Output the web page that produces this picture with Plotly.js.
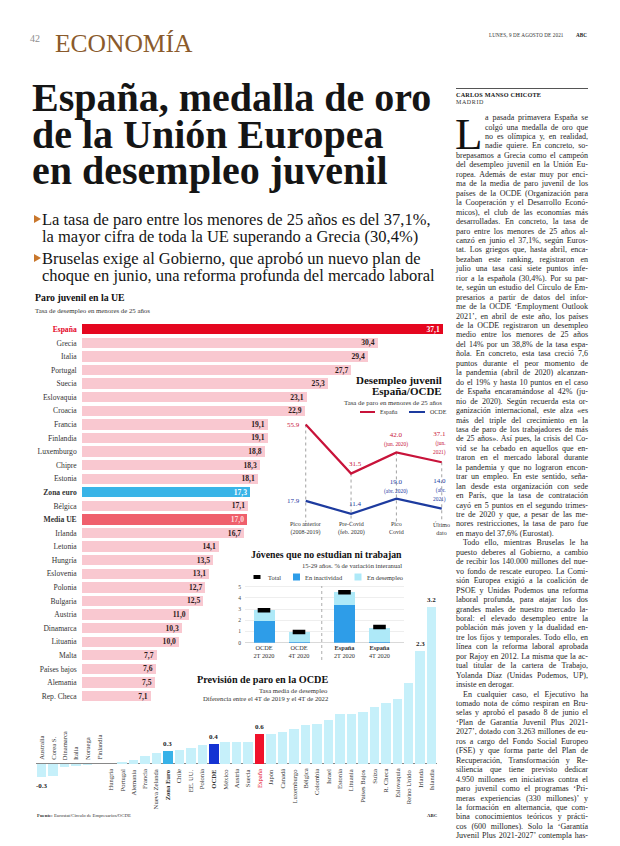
<!DOCTYPE html>
<html><head><meta charset="utf-8">
<script src="https://cdn.plot.ly/plotly-3.0.1.min.js"></script>
<style>
html,body{margin:0;padding:0;background:#fff;}
#page{position:relative;width:620px;height:846px;overflow:hidden;background:#fff;}
#chart{position:absolute;left:0;top:0;width:620px;height:846px;}
.t{position:absolute;white-space:nowrap;font-family:"Liberation Serif","Times New Roman",serif;color:#151515;}
.ln{position:absolute;white-space:pre;font-family:"Liberation Serif","Times New Roman",serif;color:#1e1e1e;font-size:8px;line-height:8px;}
.tri{position:absolute;width:0;height:0;border-left:7px solid #c9772c;border-top:4.5px solid transparent;border-bottom:4.5px solid transparent;}
#cap{position:absolute;left:455px;top:118.5px;font-family:"Liberation Serif","Times New Roman",serif;font-size:45px;line-height:30px;color:#111;white-space:nowrap;}
</style></head><body>
<div id="page">
<div id="chart"></div>

<div class="t" style="left:30px;top:34px;font-size:10px;line-height:10px;color:#8d8d8d">42</div>
<div class="t" style="left:55px;top:31px;font-size:25.5px;line-height:25.5px;color:#8a5a2b">ECONOMÍA</div>
<div class="t" style="left:489px;top:33px;font-size:5.2px;line-height:5.2px;color:#333;letter-spacing:0.1px">LUNES, 9 DE AGOSTO DE 2021</div>
<div class="t" style="left:576px;top:33px;font-size:5.2px;line-height:5.2px;color:#222;font-weight:bold">ABC</div>

<div class="t" style="left:32px;top:80px;font-size:40px;line-height:36.5px;font-weight:bold">España, medalla de oro<br>de la Unión Europea<br>en desempleo juvenil</div>

<div class="tri" style="left:34px;top:215px"></div>
<div class="t" style="left:42px;top:211px;font-size:16.5px;line-height:17px">La tasa de paro entre los menores de 25 años es del 37,1%,<br>la mayor cifra de toda la UE superando a Grecia (30,4%)</div>
<div class="tri" style="left:34px;top:254px"></div>
<div class="t" style="left:42px;top:250px;font-size:16.5px;line-height:17px">Bruselas exige al Gobierno, que aprobó un nuevo plan de<br>choque en junio, una reforma profunda del mercado laboral</div>

<div style="position:absolute;left:456px;top:87.5px;width:132px;height:0;border-top:0.7px solid #555"></div>
<div class="t" style="left:456px;top:92px;font-size:6.2px;line-height:6.2px;font-weight:bold;letter-spacing:0.2px">CARLOS MANSO CHICOTE</div>
<div class="t" style="left:456px;top:98.5px;font-size:6px;line-height:6px;letter-spacing:0.6px;color:#333">MADRID</div>
<div id="cap">L</div>
</div>

<script>
// ---------- DATOS ----------
const paisesUE = ['España','Grecia','Italia','Portugal','Suecia','Eslovaquia','Croacia','Francia','Finlandia','Luxemburgo','Chipre','Estonia','Zona euro','Bélgica','Media UE','Irlanda','Letonia','Hungría','Eslovenia','Polonia','Bulgaria','Austria','Dinamarca','Lituania','Malta','Países bajos','Alemania','Rep. Checa'];
const paroUE = [37.1,30.4,29.4,27.7,25.3,23.1,22.9,19.1,19.1,18.8,18.3,18.1,17.3,17.1,17.0,16.7,14.1,13.5,13.1,12.7,12.5,11.0,10.3,10.0,7.7,7.6,7.5,7.1];

const periodos = ['Pico anterior<br>(2008-2019)','Pre-Covid<br>(feb. 2020)','Pico<br>Covid','Último<br>dato'];
const paroEspana = [55.9,31.5,42.0,37.1];
const paroOCDE = [17.9,11.4,19.0,14.0];
const notasEspana = ['','','(jun. 2020)','(jun.<br>2021)'];
const notasOCDE = ['','','(abr. 2020)','(abr.<br>2021)'];

const gruposNini = ['OCDE<br>2T 2020','OCDE<br>4T 2020','<b>España</b><br>2T 2020','<b>España</b><br>4T 2020'];
const niniInactividad = [1.9,0.1,3.4,0.1];
const niniDesempleo = [1.0,0.85,1.1,1.25];
const niniTotal = [2.9,0.95,4.5,1.4];

const paisesOCDE = ['Australia','Corea S.','Dinamarca','Italia','Noruega','Finlandia','Hungría','Portugal','Alemania','Francia','Nueva Zelanda','Zona Euro','Chile','EE. UU.','Polonia','OCDE','México','Austria','Suecia','España','Japón','Canadá','Luxemburgo','Bélgica','Colombia','Israel','Estonia','Lituania','Países Bajos','Suiza','R. Checa','Eslovaquia','Reino Unido','Irlanda','Islandia'];
const difParo = [-0.26,-0.25,-0.07,-0.04,-0.02,-0.01,0.0,0.05,0.08,0.16,0.23,0.27,0.29,0.32,0.39,0.4,0.44,0.44,0.44,0.62,0.61,0.65,0.71,0.8,0.82,0.9,1.02,1.02,1.06,1.17,1.24,1.32,1.65,2.3,3.2];
const etiquetadosOCDE = ['Australia','Zona Euro','OCDE','España','Irlanda','Islandia'];

const lineasArticulo = [
"a pasada primavera España se","colgó una medalla de oro que","no es olímpica y, en realidad,","nadie quiere. En concreto, so-",
"brepasamos a Grecia como el campeón","del desempleo juvenil en la Unión Eu-","ropea. Además de estar muy por enci-","ma de la media de paro juvenil de los",
"países de la OCDE (Organización para","la Cooperación y el Desarrollo Econó-","micos), el club de las economías más","desarrolladas. En concreto, la tasa de",
"paro entre los menores de 25 años al-","canzó en junio el 37,1%, según Euros-","tat. Los griegos que, hasta abril, enca-","bezaban este ranking, registraron en",
"julio una tasa casi siete puntos infe-","rior a la española (30,4%). Por su par-","te, según un estudio del Círculo de Em-","presarios a partir de datos del infor-",
"me de la OCDE ‘Employment Outlook","2021’, en abril de este año, los países","de la OCDE registraron un desempleo","medio entre los menores de 25 años",
"del 14% por un 38,8% de la tasa espa-","ñola. En concreto, esta tasa creció 7,6","puntos durante el peor momento de","la pandemia (abril de 2020) alcanzan-",
"do el 19% y hasta 10 puntos en el caso","de España encaramándose al 42% (ju-","nio de 2020). Según recuerda esta or-","ganización internacional, este alza «es",
"más del triple del crecimiento en la","tasa de paro de los trabajadores de más","de 25 años». Así pues, la crisis del Co-","vid se ha cebado en aquellos que en-",
"traron en el mercado laboral durante","la pandemia y que no lograron encon-","trar un empleo. En este sentido, seña-","lan desde esta organización con sede",
"en París, que la tasa de contratación","cayó en 5 puntos en el segundo trimes-","tre de 2020 y que, a pesar de las me-","nores restricciones, la tasa de paro fue",
"en mayo del 37,6% (Eurostat).","Todo ello, mientras Bruselas le ha","puesto deberes al Gobierno, a cambio","de recibir los 140.000 millones del nue-",
"vo fondo de rescate europeo. La Comi-","sión Europea exigió a la coalición de","PSOE y Unidas Podemos una reforma","laboral profunda, para atajar los dos",
"grandes males de nuestro mercado la-","boral: el elevado desempleo entre la","población más joven y la dualidad en-","tre los fijos y temporales. Todo ello, en",
"línea con la reforma laboral aprobada","por Rajoy en 2012. La misma que la ac-","tual titular de la cartera de Trabajo,","Yolanda Díaz (Unidas Podemos, UP),",
"insiste en derogar.","En cualquier caso, el Ejecutivo ha","tomado nota de cómo respiran en Bru-","selas y aprobó el pasado 8 de junio el",
"‘Plan de Garantía Juvenil Plus 2021-","2027’, dotado con 3.263 millones de eu-","ros a cargo del Fondo Social Europeo","(FSE) y que forma parte del Plan de",
"Recuperación, Transformación y Re-","siliencia que tiene previsto dedicar","4.950 millones en iniciativas contra el","paro juvenil como el programas ‘Pri-",
"meras experiencias (330 millones)’ y","la formación en alternancia, que com-","bina conocimientos teóricos y prácti-","cos (600 millones). Solo la ‘Garantía",
"Juvenil Plus 2021-2027’ contempla has-"
];
const inicioParrafo = [45,61];
const finParrafo = [44,60];

// ---------- ESTILO ----------
const FONT = '"Liberation Serif", "Times New Roman", serif';
const W = 620, H = 846;
const px = x => x / W, py = y => 1 - y / H;
const ROJO = '#e5061f', ROSA = '#f9c8d0', AZULZ = '#39b4e7', MEDIA = '#ef5f6c';
const ROJOL = '#c8133a', AZULL = '#1d3b9f';

function ann(x, y, text, o) {
  return Object.assign({xref:'paper', yref:'paper', x:px(x), y:py(y), text:text, showarrow:false,
    xanchor:'left', yanchor:'middle', font:{family:FONT, size:7, color:'#222'}}, o || {});
}

const colorUE = p => p === 'España' ? ROJO : p === 'Zona euro' ? AZULZ : p === 'Media UE' ? MEDIA : ROSA;
const txtUE = p => p === 'España' || p === 'Zona euro' ? '#ffffff' : p === 'Media UE' ? '#ffd9dd' : '#2b1b1b';
const etiqUE = p => p === 'España' ? '<span style="color:' + ROJO + '"><b>España</b></span>'
  : (p === 'Zona euro' || p === 'Media UE') ? '<b>' + p + '</b>' : p;
const coma = v => v.toFixed(1).replace('.', ',');

const traces = [];
const shapes = [];
const anns = [];

// ---- Paro juvenil en la UE ----
traces.push({type:'bar', orientation:'h', x:paroUE, y:paisesUE, xaxis:'x', yaxis:'y', width:0.76,
  marker:{color:paisesUE.map(colorUE)},
  text:paroUE.map(coma), texttemplate:'<b>%{text}</b>', textposition:'inside', insidetextanchor:'end',
  textangle:0, constraintext:'none', textfont:{family:FONT, size:7.6, color:paisesUE.map(txtUE)},
  hoverinfo:'skip', cliponaxis:false});
anns.push(ann(33, 298, '<b>Paro juvenil en la UE</b>', {font:{family:FONT, size:9.8, color:'#111'}}));
anns.push(ann(33, 310, 'Tasa de desempleo en menores de 25 años', {font:{family:FONT, size:6.8, color:'#333'}}));

// ---- Desempleo juvenil España/OCDE ----
const idx = periodos.map((_, i) => i);
idx.forEach(i => shapes.push({type:'line', xref:'x2', yref:'y2', x0:i, x1:i, y0:paroEspana[i], y1:7.3,
  line:{color:'#8a8a8a', width:0.8, dash:'dot'}, layer:'below'}));
traces.push({type:'scatter', mode:'lines', x:idx, y:paroEspana, xaxis:'x2', yaxis:'y2', line:{color:ROJOL, width:2.2}, hoverinfo:'skip'});
traces.push({type:'scatter', mode:'lines', x:idx, y:paroOCDE, xaxis:'x2', yaxis:'y2', line:{color:AZULL, width:2.2}, hoverinfo:'skip'});
idx.forEach(i => anns.push({xref:'x2', yref:'paper', x:i, y:py(528), text:periodos[i], showarrow:false,
  xanchor:'center', yanchor:'middle', font:{family:FONT, size:6, color:'#333'}}));
const colocar = [
  {xanchor:'right', yanchor:'middle', xshift:-4, yshift:0, align:'right'},
  {xanchor:'center', yanchor:'bottom', xshift:4, yshift:4, align:'center'},
  {xanchor:'center', yanchor:'bottom', xshift:0, yshift:2, align:'center'},
  {xanchor:'right', yanchor:'bottom', xshift:6, yshift:4, align:'right'}
];
function etiquetasSerie(vals, notas, color) {
  idx.forEach(i => {
    let t = vals[i].toFixed(1);
    if (notas[i]) t += '<br><span style="font-size:5.4px">' + notas[i] + '</span>';
    anns.push(Object.assign({xref:'x2', yref:'y2', x:i, y:vals[i], text:t, showarrow:false,
      font:{family:FONT, size:7, color:color}}, colocar[i]));
  });
}
etiquetasSerie(paroEspana, notasEspana, ROJOL);
etiquetasSerie(paroOCDE, notasOCDE, AZULL);
anns.push(ann(444, 380, '<b>Desempleo juvenil</b>', {xanchor:'right', font:{family:FONT, size:11, color:'#111'}}));
anns.push(ann(444, 391, '<b>España/OCDE</b>', {xanchor:'right', font:{family:FONT, size:11, color:'#111'}}));
anns.push(ann(444, 402, 'Tasa de paro en menores de 25 años', {xanchor:'right', font:{family:FONT, size:6.8, color:'#333'}}));
shapes.push({type:'line', xref:'paper', yref:'paper', x0:px(360), x1:px(375), y0:py(412), y1:py(412), line:{color:ROJOL, width:2}});
shapes.push({type:'line', xref:'paper', yref:'paper', x0:px(409), x1:px(425), y0:py(412), y1:py(412), line:{color:AZULL, width:2}});
anns.push(ann(378, 412, 'España', {font:{family:FONT, size:6, color:'#333'}}));
anns.push(ann(428, 412, 'OCDE', {font:{family:FONT, size:6, color:'#333'}}));

// ---- Jóvenes que no estudian ni trabajan ----
const posNini = gruposNini.map((_, i) => i + (i >= 2 ? 0.3 : 0));
traces.push({type:'bar', x:posNini, y:niniInactividad, xaxis:'x3', yaxis:'y3', width:0.6, marker:{color:'#2e9de8'}, hoverinfo:'skip'});
traces.push({type:'bar', x:posNini, y:niniDesempleo, xaxis:'x3', yaxis:'y3', width:0.6, marker:{color:'#aee9f8'}, hoverinfo:'skip'});
traces.push({type:'scatter', mode:'markers', x:posNini, y:niniTotal, xaxis:'x3', yaxis:'y3',
  marker:{symbol:'line-ew', size:9, color:'#000', line:{color:'#000', width:4.5}}, hoverinfo:'skip'});
shapes.push({type:'line', xref:'x3', yref:'paper', x0:1.65, x1:1.65, y0:py(660), y1:py(586), line:{color:'#999', width:0.8, dash:'dot'}});
anns.push(ann(404, 554, '<b>Jóvenes que no estudian ni trabajan</b>', {xanchor:'right', font:{family:FONT, size:9.8, color:'#111'}}));
anns.push(ann(404, 565, '15-29 años. % de variación interanual', {xanchor:'right', font:{family:FONT, size:6.6, color:'#333'}}));
shapes.push({type:'line', xref:'paper', yref:'paper', x0:px(253.5), x1:px(260.5), y0:py(577), y1:py(577), line:{color:'#000', width:4}});
shapes.push({type:'rect', xref:'paper', yref:'paper', x0:px(293), x1:px(300), y0:py(580.5), y1:py(573.5), line:{width:0}, fillcolor:'#2e9de8'});
shapes.push({type:'rect', xref:'paper', yref:'paper', x0:px(354.5), x1:px(361.5), y0:py(580.5), y1:py(573.5), line:{width:0}, fillcolor:'#aee9f8'});
anns.push(ann(265.5, 577, 'Total', {font:{family:FONT, size:6.4, color:'#333'}}));
anns.push(ann(302.5, 577, 'En inactividad', {font:{family:FONT, size:6.4, color:'#333'}}));
anns.push(ann(365, 577, 'En desempleo', {font:{family:FONT, size:6.4, color:'#333'}}));

// ---- Previsión de paro en la OCDE ----
const colorOCDE = p => p === 'España' ? '#f0112b' : p === 'OCDE' ? '#1533d3' : p === 'Zona Euro' ? '#37b2e8' : '#c6f0fa';
traces.push({type:'bar', x:paisesOCDE, y:difParo, xaxis:'x4', yaxis:'y4', width:0.83,
  marker:{color:paisesOCDE.map(colorOCDE)}, hoverinfo:'skip'});
paisesOCDE.forEach((p, i) => {
  const neg = difParo[i] < 0;
  let t = p;
  if (p === 'España') t = '<span style="color:#e3001b">' + p + '</span>';
  if (p === 'OCDE' || p === 'Zona Euro') t = '<b>' + p + '</b>';
  anns.push({xref:'x4', yref:'y4', x:i, y:0, text:t, textangle:-90, showarrow:false, xanchor:'center',
    yanchor:neg ? 'bottom' : 'top', yshift:neg ? 2 : -3, font:{family:FONT, size:6.6, color:'#333'}});
  if (etiquetadosOCDE.includes(p)) {
    anns.push({xref:'x4', yref:'y4', x:i, y:difParo[i], text:'<b>' + difParo[i].toFixed(1) + '</b>', showarrow:false,
      xanchor:'center', yanchor:neg ? 'top' : 'bottom', yshift:neg ? -3 : 1, font:{family:FONT, size:7, color:'#222'}});
  }
});
anns.push(ann(330, 679, '<b>Previsión de paro en la OCDE</b>', {xanchor:'right', font:{family:FONT, size:10.2, color:'#111'}}));
anns.push(ann(330, 690.5, 'Tasa media de desempleo', {xanchor:'right', font:{family:FONT, size:6.7, color:'#333'}}));
anns.push(ann(330, 698.5, 'Diferencia entre el 4T de 2019 y el 4T de 2022', {xanchor:'right', font:{family:FONT, size:6.7, color:'#333'}}));
anns.push(ann(35, 815, '<b>Fuente:</b> Eurostat/Círculo de Empresarios/OCDE', {font:{family:FONT, size:4.8, color:'#333'}}));
anns.push(ann(440, 815, '<b>ABC</b>', {xanchor:'right', font:{family:FONT, size:4.8, color:'#222'}}));

const layout = {
  width:W, height:H, margin:{l:0, r:0, t:0, b:0},
  paper_bgcolor:'rgba(0,0,0,0)', plot_bgcolor:'rgba(0,0,0,0)',
  showlegend:false, barmode:'stack', font:{family:FONT, color:'#222'},
  xaxis:{domain:[px(81.7), px(443)], range:[0, 37.1], visible:false, anchor:'y', fixedrange:true},
  yaxis:{domain:[py(702.8), py(322.5)], type:'category', categoryorder:'array', categoryarray:paisesUE,
    range:[27.5, -0.5], tickmode:'array', tickvals:paisesUE, ticktext:paisesUE.map(etiqUE),
    tickfont:{family:FONT, size:7.6, color:'#333'}, showgrid:false, zeroline:false, showline:false, ticks:'',
    ticklabelstandoff:4, anchor:'x'},
  xaxis2:{domain:[px(290.3), px(455.8)], range:[-0.34, 3.31], visible:false, anchor:'y2'},
  yaxis2:{domain:[py(536.8), py(416.3)], range:[0, 60], visible:false, anchor:'x2'},
  xaxis3:{domain:[px(245), px(404)], range:[-0.543, 4.0], anchor:'y3', tickmode:'array', tickvals:posNini,
    ticktext:gruposNini, tickfont:{family:FONT, size:6.3, color:'#333'}, showgrid:false, zeroline:false,
    showline:false, ticks:''},
  yaxis3:{domain:[py(642.7), py(583.3)], range:[0, 5.3], anchor:'x3', tickmode:'linear', tick0:0, dtick:1,
    tickfont:{family:FONT, size:5.6, color:'#444'}, showgrid:true, gridcolor:'#e2e2e2', gridwidth:0.6,
    zeroline:true, zerolinecolor:'#cfcfcf', zerolinewidth:0.8, showline:false, ticks:'', ticklabelstandoff:3},
  xaxis4:{domain:[px(36), px(437.4)], type:'category', categoryorder:'array', categoryarray:paisesOCDE,
    range:[-0.5, 34.5], visible:false, anchor:'y4'},
  yaxis4:{domain:[py(786), py(602.3)], range:[-0.45, 3.3], anchor:'x4', showticklabels:false, showgrid:false,
    zeroline:true, zerolinecolor:'#6a6a6a', zerolinewidth:0.8, showline:false, ticks:''},
  shapes:shapes, annotations:anns
};

Plotly.newPlot('chart', traces, layout, {staticPlot:true, displayModeBar:false});

// ---------- ARTÍCULO (texto justificado) ----------
const page = document.getElementById('page');
const LH = 9.45, Y0 = 118.5, COLX = 456, COLW = 132, SANGRIA_CAP = 485;
lineasArticulo.forEach((txt, i) => {
  const d = document.createElement('div');
  d.className = 'ln';
  let left = COLX, w = COLW;
  if (i < 4) { left = SANGRIA_CAP; w = COLX + COLW - SANGRIA_CAP; }
  if (inicioParrafo.includes(i)) { left += 7; w -= 7; }
  d.style.left = left + 'px';
  d.style.top = (Y0 + i * LH - 4.4) + 'px';
  const s = document.createElement('span');
  s.textContent = txt;
  s.style.display = 'inline-block';
  d.appendChild(s);
  page.appendChild(d);
  const nat = s.getBoundingClientRect().width;
  if (nat > w) {
    s.style.transformOrigin = '0 0';
    s.style.transform = 'scaleX(' + (w / nat) + ')';
  } else if (!finParrafo.includes(i)) {
    const sp = (txt.match(/ /g) || []).length;
    if (sp > 0) s.style.wordSpacing = ((w - nat) / sp) + 'px';
  }
});
</script>
</body></html>
